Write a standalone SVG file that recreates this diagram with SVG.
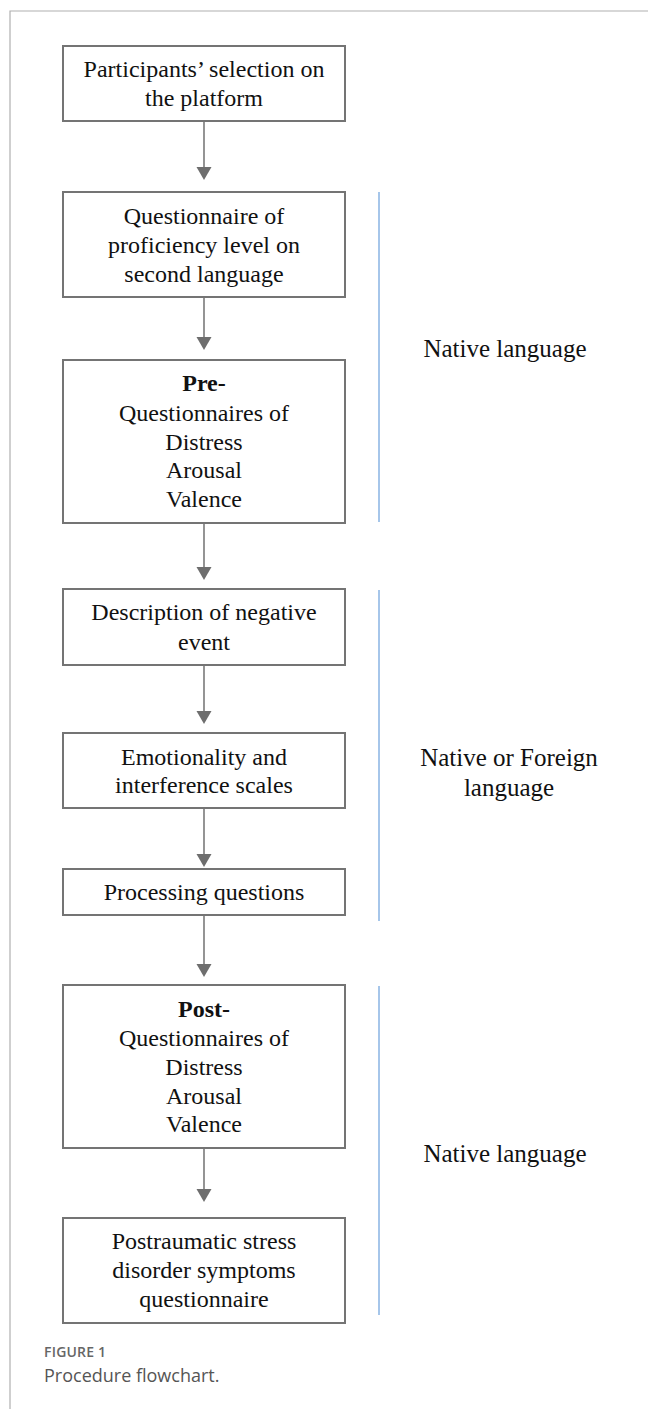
<svg xmlns="http://www.w3.org/2000/svg" width="648" height="1409" viewBox="0 0 648 1409">
<style>
.box{fill:#fff;stroke:#747474;stroke-width:2}
.t{font-family:"Liberation Serif","Times New Roman",serif;font-size:24px;fill:#111;text-anchor:middle}
.b{font-weight:bold}
.lbl{font-family:"Liberation Serif","Times New Roman",serif;font-size:25px;fill:#111;text-anchor:middle}
.edge{stroke:#7a7a7a;stroke-width:1.6;fill:none}
.head{fill:#6e6e6e}
.bar{stroke:#a6c6ea;stroke-width:2}
.frame{stroke:#b0b0b0;stroke-width:1.2;fill:none}
</style>
<rect width="648" height="1409" fill="#fff"/>
<path class="frame" d="M10 1409 V11 H648"/>

<g id="connectors">
<line class="edge" x1="204" y1="121" x2="204" y2="168"/><polygon class="head" points="196.5,167 211.5,167 204,180"/>
<line class="edge" x1="204" y1="297" x2="204" y2="338"/><polygon class="head" points="196.5,337 211.5,337 204,350"/>
<line class="edge" x1="204" y1="523" x2="204" y2="568"/><polygon class="head" points="196.5,567 211.5,567 204,580"/>
<line class="edge" x1="204" y1="665" x2="204" y2="712"/><polygon class="head" points="196.5,711 211.5,711 204,724"/>
<line class="edge" x1="204" y1="808" x2="204" y2="855"/><polygon class="head" points="196.5,854 211.5,854 204,867"/>
<line class="edge" x1="204" y1="915" x2="204" y2="965"/><polygon class="head" points="196.5,964 211.5,964 204,977"/>
<line class="edge" x1="204" y1="1148" x2="204" y2="1190"/><polygon class="head" points="196.5,1189 211.5,1189 204,1202"/>
</g>

<g id="n1"><rect class="box" x="63" y="46" width="282" height="75"/>
<text class="t" x="204" y="77">Participants’ selection on</text>
<text class="t" x="204" y="106">the platform</text></g>

<g id="n2"><rect class="box" x="63" y="192" width="282" height="105"/>
<text class="t" x="204" y="224">Questionnaire of</text>
<text class="t" x="204" y="253">proficiency level on</text>
<text class="t" x="204" y="282">second language</text></g>

<g id="n3"><rect class="box" x="63" y="360" width="282" height="163"/>
<text class="t b" x="204" y="391">Pre-</text>
<text class="t" x="204" y="421">Questionnaires of</text>
<text class="t" x="204" y="450">Distress</text>
<text class="t" x="204" y="478">Arousal</text>
<text class="t" x="204" y="507">Valence</text></g>

<g id="n4"><rect class="box" x="63" y="589" width="282" height="76"/>
<text class="t" x="204" y="620">Description of negative</text>
<text class="t" x="204" y="650">event</text></g>

<g id="n5"><rect class="box" x="63" y="733" width="282" height="75"/>
<text class="t" x="204" y="765">Emotionality and</text>
<text class="t" x="204" y="793">interference scales</text></g>

<g id="n6"><rect class="box" x="63" y="869" width="282" height="46"/>
<text class="t" x="204" y="900">Processing questions</text></g>

<g id="n7"><rect class="box" x="63" y="985" width="282" height="163"/>
<text class="t b" x="204" y="1017">Post-</text>
<text class="t" x="204" y="1046">Questionnaires of</text>
<text class="t" x="204" y="1075">Distress</text>
<text class="t" x="204" y="1104">Arousal</text>
<text class="t" x="204" y="1132">Valence</text></g>

<g id="n8"><rect class="box" x="63" y="1218" width="282" height="105"/>
<text class="t" x="204" y="1249">Postraumatic stress</text>
<text class="t" x="204" y="1278">disorder symptoms</text>
<text class="t" x="204" y="1307">questionnaire</text></g>

<g id="phases">
<line class="bar" x1="379" y1="192" x2="379" y2="522"/>
<text class="lbl" x="505" y="357">Native language</text>
<line class="bar" x1="379" y1="590" x2="379" y2="921"/>
<text class="lbl" x="509" y="766">Native or Foreign</text>
<text class="lbl" x="509" y="796">language</text>
<line class="bar" x1="379" y1="986" x2="379" y2="1315"/>
<text class="lbl" x="505" y="1162">Native language</text>
</g>

<g id="caption">
<text x="44" y="1357" font-family="'Open Sans',sans-serif" font-size="14" font-weight="600" fill="#666" letter-spacing="0.2">FIGURE 1</text>
<text x="44" y="1382" font-family="'Open Sans',sans-serif" font-size="18" fill="#555">Procedure flowchart.</text>
</g>
</svg>
